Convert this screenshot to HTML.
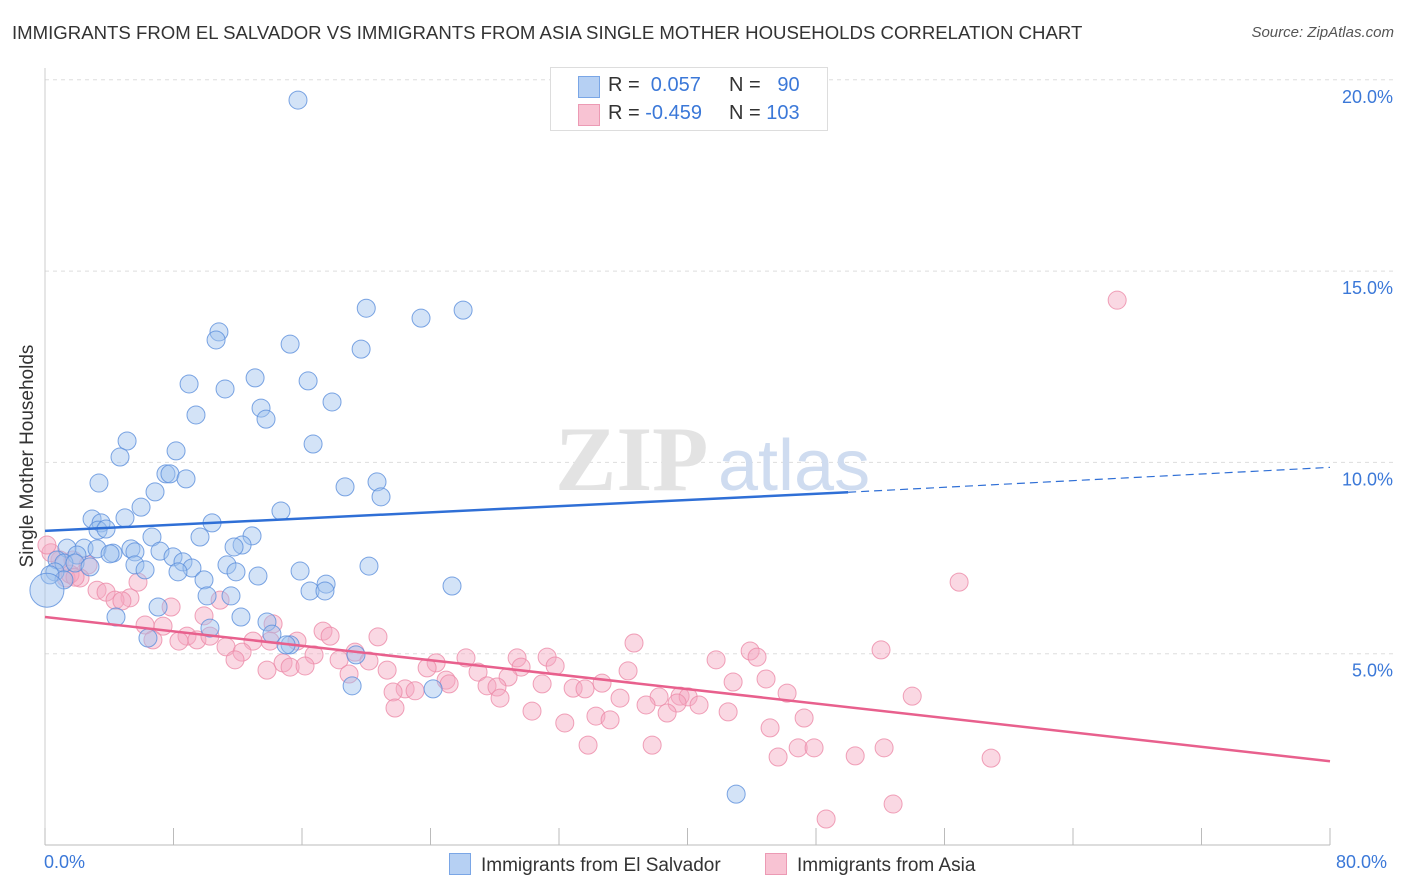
<!DOCTYPE html>
<html><head><meta charset="utf-8"><style>
body{margin:0;background:#fff;font-family:"Liberation Sans",sans-serif;}
#wrap{position:relative;width:1406px;height:892px;overflow:hidden;}
.t{position:absolute;white-space:nowrap;}
</style></head><body>
<div id="wrap">
<div class="t" style="left:12px;top:22px;font-size:18.6px;color:#333;">IMMIGRANTS FROM EL SALVADOR VS IMMIGRANTS FROM ASIA SINGLE MOTHER HOUSEHOLDS CORRELATION CHART</div>
<div class="t" style="right:12px;top:24px;font-size:15px;color:#555;font-style:italic;">Source: ZipAtlas.com</div>
<svg id="svg" width="1406" height="892" style="position:absolute;left:0;top:0"></svg>
</div>
<script>
const blueX=[15.75,20.0,26.03,23.41,10.83,10.65,15.26,19.68,8.97,13.08,16.38,11.21,17.87,13.45,9.40,13.76,5.11,16.69,4.67,8.16,7.53,7.78,8.78,3.36,20.67,18.68,6.85,20.92,5.98,2.93,4.98,3.49,10.40,3.30,3.80,14.69,12.89,6.66,9.65,12.27,11.77,2.43,1.37,3.24,4.23,5.35,5.60,7.16,4.05,1.99,7.97,8.59,0.75,1.18,1.87,11.33,20.17,5.60,9.15,15.88,6.23,8.28,11.89,13.26,2.80,0.62,1.18,9.90,17.50,25.34,16.50,17.43,10.09,11.58,7.04,4.42,13.82,12.20,10.27,14.13,6.41,15.26,15.01,19.36,19.12,24.16,43.03,0.31,0.12];
const blueY=[19.47,14.03,13.98,13.77,13.41,13.2,13.09,12.96,12.05,12.21,12.13,11.92,11.58,11.42,11.24,11.13,10.56,10.48,10.14,10.30,9.70,9.70,9.57,9.46,9.49,9.36,9.23,9.10,8.83,8.52,8.55,8.42,8.42,8.23,8.26,8.73,8.08,8.05,8.05,7.84,7.79,7.76,7.76,7.74,7.63,7.74,7.66,7.68,7.61,7.58,7.53,7.40,7.45,7.37,7.37,7.32,7.29,7.32,7.24,7.16,7.19,7.14,7.14,7.03,7.27,7.14,6.93,6.93,6.82,6.77,6.64,6.64,6.51,6.51,6.22,5.96,5.83,5.96,5.67,5.51,5.41,5.23,5.23,4.97,4.16,4.08,1.33,7.06,6.66];
const pinkX=[66.75,56.91,0.93,1.74,2.68,2.18,1.31,5.79,3.24,3.80,5.29,4.36,4.79,10.90,7.85,9.90,6.23,7.35,14.20,17.31,6.72,8.84,9.46,8.34,10.27,11.27,12.95,14.01,15.69,17.75,20.73,36.67,12.27,19.30,16.75,11.83,14.82,15.26,16.19,18.31,20.17,24.35,26.21,29.39,31.26,43.90,44.33,41.78,52.05,13.82,21.30,23.79,29.64,31.76,36.30,18.93,26.96,24.97,25.16,28.83,44.89,42.84,34.68,30.95,22.42,23.04,27.52,28.14,32.88,33.62,21.67,28.33,35.80,38.23,39.54,40.04,39.35,37.42,40.72,46.20,53.99,21.79,30.32,32.36,38.73,42.53,34.30,35.18,47.26,45.14,33.81,37.80,46.89,47.88,50.44,52.24,45.64,58.90,48.63,52.80,0.37,1.56,1.87,0.12];
const pinkY=[14.24,6.87,7.45,7.45,7.32,6.98,6.98,6.87,6.66,6.61,6.46,6.40,6.38,6.40,6.22,5.99,5.75,5.72,5.78,5.59,5.36,5.46,5.36,5.33,5.46,5.18,5.33,5.33,5.33,5.46,5.44,5.28,5.04,5.04,4.97,4.84,4.76,4.65,4.68,4.84,4.81,4.76,4.89,4.89,4.91,5.07,4.91,4.84,5.10,4.57,4.57,4.63,4.65,4.68,4.55,4.47,4.52,4.31,4.21,4.39,4.34,4.26,4.23,4.21,4.08,4.03,4.16,4.13,4.10,4.08,4.00,3.84,3.84,3.87,3.89,3.87,3.71,3.66,3.66,3.97,3.89,3.58,3.50,3.19,3.45,3.48,3.37,3.27,3.32,3.06,2.61,2.61,2.54,2.54,2.33,2.54,2.30,2.27,0.68,1.07,7.64,7.08,7.00,7.84];
const blueTrend=[8.21,9.22,9.87]; // at x=0, 50 (solid end), 80
const pinkTrend=[5.96,2.19]; // at x=0, 80
const yTicks=[5,10,15,20];
const xTickVals=[0,8,16,24,32,40,48,56,64,72,80];

const X=v=>45+v*1285/80;
const Y=v=>845-v*38.26;
const svg=document.getElementById('svg');
const NS='http://www.w3.org/2000/svg';
function mk(t,a){const e=document.createElementNS(NS,t);for(const k in a)e.setAttribute(k,a[k]);svg.appendChild(e);return e;}

yTicks.forEach(v=>{
 const l=mk('line',{x1:45,x2:1395,y1:Y(v),y2:Y(v),stroke:'#ddd','stroke-dasharray':'4,4'});
 
 
 const t=mk('text',{x:1393,y:Y(v)+23,'text-anchor':'end','font-size':18,fill:'#3b78d8','font-family':'Liberation Sans'});
 t.textContent=v.toFixed(1)+'%';
 
 
});
const ax=mk('line',{x1:45,x2:1330,y1:845,y2:845,stroke:'#bbb'});


const ay=mk('line',{x1:45,x2:45,y1:68,y2:845,stroke:'#ccc'});


xTickVals.forEach(v=>{
 const l=mk('line',{x1:X(v),x2:X(v),y1:828,y2:845,stroke:'#bbb'});
 
 
});
const w1=mk('text',{x:555,y:490,'font-size':92,fill:'#e3e3e3','font-family':'Liberation Serif','font-weight':'bold'});
w1.textContent='ZIP';


const w2=mk('text',{x:718,y:490,'font-size':72,fill:'#cfdcf0','font-family':'Liberation Sans'});
w2.textContent='atlas';



function dots(xs,ys,fill,stroke,name,allowBig){
 xs.forEach((x,i)=>{
  const big=allowBig&&(x<0.2);
  const c=mk('circle',{cx:X(x),cy:Y(ys[i]),r:big?17:9,fill:fill,'fill-opacity':0.45,stroke:stroke,'stroke-opacity':0.8,'stroke-width':1});
  
  
 });
}
dots(pinkX,pinkY,'#f5a9c0','#ec8aa8','asia-point',false);
dots(blueX,blueY,'#9dc0ee','#5b8fdc','el-salvador-point',true);

const bl=mk('line',{x1:X(0),y1:Y(blueTrend[0]),x2:X(50),y2:Y(blueTrend[1]),stroke:'#2f6fd6','stroke-width':2.5});


const bd=mk('line',{x1:X(50),y1:Y(blueTrend[1]),x2:X(80),y2:Y(blueTrend[2]),stroke:'#2f6fd6','stroke-width':1.2,'stroke-dasharray':'8,5'});


const pl=mk('line',{x1:X(0),y1:Y(pinkTrend[0]),x2:X(80),y2:Y(pinkTrend[1]),stroke:'#e8608d','stroke-width':2.5});


</script>
<div class="t" style="left:-92px;top:445px;transform:rotate(-90deg);font-size:19px;color:#333;width:240px;text-align:center;">Single Mother Households</div>
<div class="t" style="left:44px;top:852px;font-size:18px;color:#3b78d8;">0.0%</div>
<div class="t" style="left:1336px;top:852px;font-size:18px;color:#3b78d8;">80.0%</div>
<div style="position:absolute;left:550px;top:67px;width:276px;height:62px;border:1px solid #ddd;background:#fff;font-size:20px;">
 <div style="position:absolute;left:27px;top:8px;width:20px;height:20px;background:#b6d0f3;border:1px solid #7aa6e6;"></div>
 <div class="t" style="left:57px;top:6px;color:#333;">R = <span style="color:#3b78d8">&nbsp;0.057</span></div>
 <div class="t" style="left:178px;top:6px;color:#333;">N = <span style="color:#3b78d8">&nbsp;&nbsp;90</span></div>
 <div style="position:absolute;left:27px;top:36px;width:20px;height:20px;background:#f8c3d3;border:1px solid #ec9ab4;"></div>
 <div class="t" style="left:57px;top:34px;color:#333;">R = <span style="color:#3b78d8">-0.459</span></div>
 <div class="t" style="left:178px;top:34px;color:#333;">N = <span style="color:#3b78d8">103</span></div>
</div>
<div style="position:absolute;left:449px;top:853px;font-size:19px;color:#333;">
 <span style="display:inline-block;width:20px;height:20px;background:#b6d0f3;border:1px solid #7aa6e6;vertical-align:-4px;margin-right:10px"></span>Immigrants from El Salvador</div>
<div style="position:absolute;left:765px;top:853px;font-size:19px;color:#333;">
 <span style="display:inline-block;width:20px;height:20px;background:#f8c3d3;border:1px solid #ec9ab4;vertical-align:-4px;margin-right:10px"></span>Immigrants from Asia</div>
</body></html>
